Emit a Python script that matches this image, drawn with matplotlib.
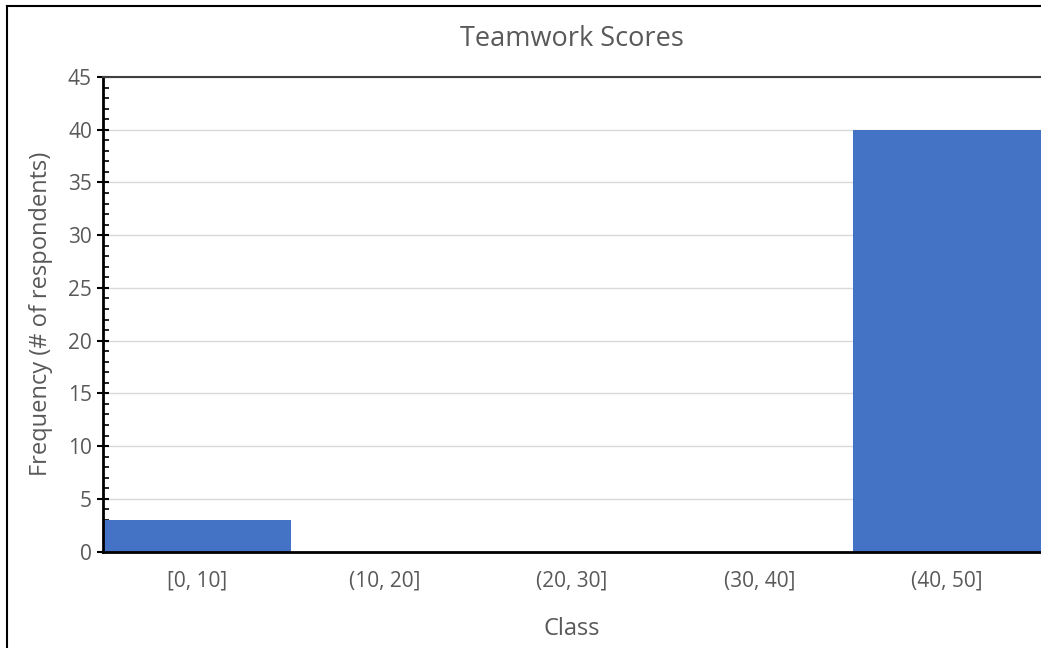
import matplotlib.pyplot as plt
from matplotlib.lines import Line2D
from matplotlib.ticker import MultipleLocator

classes = ["[0, 10]", "(10, 20]", "(20, 30]", "(30, 40]", "(40, 50]"]
counts = [3, 0, 0, 0, 40]

plt.rcParams['font.family'] = ['Open Sans', 'DejaVu Sans']
text_color = '#595959'

fig = plt.figure(figsize=(10.41, 6.48), dpi=100)
ax = fig.add_axes([103 / 1041, 1 - 551.5 / 648, 938 / 1041, 474.5 / 648])

x = list(range(len(classes)))
ax.bar(x, counts, width=1.0, color='#4472C4', zorder=2)

ax.set_xlim(-0.5, len(classes) - 0.5)
ax.set_ylim(0, 45)
ax.yaxis.set_major_locator(MultipleLocator(5))
ax.yaxis.set_minor_locator(MultipleLocator(1))
ax.set_xticks(x)
ax.set_xticklabels(classes)

ax.grid(axis='y', color='#d9d9d9', linewidth=1, zorder=0)
ax.tick_params(axis='y', which='major', direction='inout', length=8, width=1.5,
               labelsize=15, labelcolor=text_color, pad=4)
ax.tick_params(axis='y', which='minor', direction='in', length=4, width=1.2)
ax.tick_params(axis='x', length=0, labelsize=15, labelcolor=text_color, pad=14)

for side in ['left', 'bottom']:
    ax.spines[side].set_linewidth(2)
    ax.spines[side].set_color('black')
ax.spines['top'].set_color('#404040')
ax.spines['top'].set_linewidth(1.5)
ax.spines['right'].set_visible(False)

ax.set_title('Teamwork Scores', fontsize=19.5, color=text_color, pad=22.5)
ax.set_xlabel('Class', fontsize=17, color=text_color, labelpad=18)
ax.set_ylabel('Frequency (# of respondents)', fontsize=17, color=text_color, labelpad=11)

# outer frame along the left and top edges
fig.add_artist(Line2D([6.5 / 1041, 6.5 / 1041], [0, 1 - 5.5 / 648], color='black', lw=1.5))
fig.add_artist(Line2D([6.5 / 1041, 1], [1 - 5.5 / 648, 1 - 5.5 / 648], color='black', lw=1.5))

fig.savefig('out.png', dpi=100)
